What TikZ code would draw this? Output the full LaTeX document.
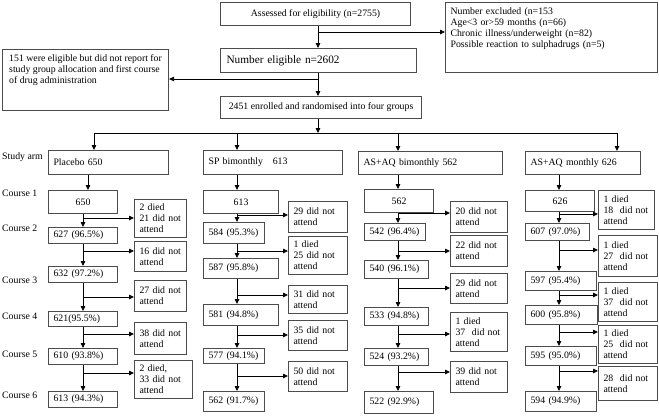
\documentclass[tikz,border=0pt]{standalone}
\usepackage{fontspec}
\setmainfont{Liberation Serif}
\usetikzlibrary{arrows.meta, positioning}

\begin{document}
\begin{tikzpicture}[x=1pt, y=-1pt,
    >={Triangle[length=5pt, width=4.5pt]},
    every node/.style={font=\fontsize{9.8}{11}\selectfont},
    box/.style={draw=black!70, line width=1.1pt, anchor=north west,
      inner xsep=5pt, inner ysep=2pt, align=left},
    mid/.style={box, align=center},
    link/.style={->, line width=0.8pt}]
          \useasboundingbox (0,0) rectangle (659,416);

          % Screening
          \node[mid, minimum width=190, minimum height=23] (assess) at (220,2) {Assessed for eligibility (n=2755)};
          \node[box, text width=202pt, text height=8pt, text depth=54pt, inner ysep=4pt] (excl) at (445,2)
            {Number excluded (n=153\\Age<3 or>59 months (n=66)\\Chronic illness/underweight (n=82)\\Possible reaction to sulphadrugs (n=5)};
          \node[box, text width=184pt, inner xsep=6pt, minimum height=24, font=\fontsize{11.3}{13}\selectfont] (numelig) at (220,48) {Number eligible n=2602};
          \node[box, minimum width=166, text height=30pt, text depth=23pt, inner ysep=4pt] (box151) at (2,49)
            {151 were eligible but did not report for\\study group allocation and first course\\of drug administration};
          \node[mid, minimum width=201, minimum height=22] (enrol) at (220,96) {2451 enrolled and randomised into four groups};

          % Study arms
          \node[box, text width=110pt, minimum height=24] (pl) at (48,150) {Placebo 650};
          \node[box, text width=129pt, minimum height=24] (sp) at (203,150) {SP bimonthly\ \ \ 613};
          \node[box, text width=134pt, minimum height=23] (bi) at (358,151) {AS+AQ bimonthly 562};
          \node[box, text width=105pt, minimum height=23] (mo) at (525,151) {AS+AQ monthly 626};

          % Row labels
          \node[anchor=west, inner sep=0pt] (lab0) at (2,157) {Study arm};
          \node[anchor=west, inner sep=0pt] (lab1) at (2,193) {Course 1};
          \node[anchor=west, inner sep=0pt] (lab2) at (2,228) {Course 2};
          \node[anchor=west, inner sep=0pt] (lab3) at (2,280) {Course 3};
          \node[anchor=west, inner sep=0pt] (lab4) at (2,316) {Course 4};
          \node[anchor=west, inner sep=0pt] (lab5) at (2,354) {Course 5};
          \node[anchor=west, inner sep=0pt] (lab6) at (2,395) {Course 6};

          % Placebo
          \node[mid, minimum width=69, minimum height=23] (p1) at (48,190) {650};
          \node[box, text width=59pt, minimum height=16] (p2) at (48,227) {627 (96.5\%)};
          \node[box, text width=59pt, minimum height=16] (p3) at (48,266) {632 (97.2\%)};
          \node[box, text width=59pt, minimum height=15] (p4) at (48,311) {621(95.5\%)};
          \node[box, text width=59pt, minimum height=16] (p5) at (48,348) {610 (93.8\%)};
          \node[box, text width=59pt, minimum height=16] (p6) at (48,391) {613 (94.3\%)};
          \node[box, text width=42pt, minimum height=38] (ps1) at (134,199) {2 died\\21 did not\\attend};
          \node[box, text width=42pt, minimum height=30] (ps2) at (134,241) {16 did not\\attend};
          \node[box, text width=42pt, minimum height=31] (ps3) at (134,280) {27 did not\\attend};
          \node[box, text width=42pt, minimum height=32] (ps4) at (134,322) {38 did not\\attend};
          \node[box, text width=48pt, minimum height=38] (ps5) at (134,360) {2 died,\\33 did not\\attend};

          % SP bimonthly
          \node[mid, minimum width=75, minimum height=23] (s1) at (203,190) {613};
          \node[box, text width=51pt, minimum height=21] (s2) at (203,222) {584 (95.3\%)};
          \node[box, text width=65pt, minimum height=20] (s3) at (203,258) {587 (95.8\%)};
          \node[box, text width=65pt, minimum height=21] (s4) at (203,304) {581 (94.8\%)};
          \node[box, text width=51pt, minimum height=15] (s5) at (203,348) {577 (94.1\%)};
          \node[box, text width=51pt, minimum height=20] (s6) at (203,391) {562 (91.7\%)};
          \node[box, text width=49pt, minimum height=31] (ss1) at (288,201) {29 did not\\attend};
          \node[box, text width=49pt, minimum height=38] (ss2) at (288,236) {1 died\\25 did not\\attend};
          \node[box, text width=49pt, minimum height=28] (ss3) at (288,285) {31 did not\\attend};
          \node[box, text width=49pt, minimum height=30] (ss4) at (288,320) {35 did not\\attend};
          \node[box, text width=49pt, minimum height=30] (ss5) at (288,361) {50 did not\\attend};

          % AS+AQ bimonthly
          \node[mid, minimum width=69, minimum height=23] (b1) at (364,189) {562};
          \node[box, text width=51pt, minimum height=17] (b2) at (364,223) {542 (96.4\%)};
          \node[box, text width=54pt, minimum height=18] (b3) at (364,260) {540 (96.1\%)};
          \node[box, text width=54pt, minimum height=18] (b4) at (364,307) {533 (94.8\%)};
          \node[box, text width=54pt, minimum height=17] (b5) at (364,348) {524 (93.2\%)};
          \node[box, text width=59pt, minimum height=22] (b6) at (364,391) {522 (92.9\%)};
          \node[box, text width=47pt, minimum height=31] (bs1) at (450,201) {20 did not\\attend};
          \node[box, text width=47pt, minimum height=31] (bs2) at (450,235) {22 did not\\attend};
          \node[box, text width=47pt, minimum height=30] (bs3) at (450,273) {29 did not\\attend};
          \node[box, text width=47pt, minimum height=39] (bs4) at (450,312) {1 died\\37\ \ did not\\attend};
          \node[box, text width=47pt, minimum height=31] (bs5) at (450,361) {39 did not\\attend};

          % AS+AQ monthly
          \node[mid, minimum width=69, minimum height=21] (m1) at (525,190) {626};
          \node[box, text width=54pt, minimum height=17] (m2) at (525,223) {607 (97.0\%)};
          \node[box, text width=61pt, minimum height=19] (m3) at (525,271) {597 (95.4\%)};
          \node[box, text width=62pt, minimum height=19] (m4) at (525,305) {600 (95.8\%)};
          \node[box, text width=61pt, minimum height=19] (m5) at (525,346) {595 (95.0\%)};
          \node[box, text width=61pt, minimum height=20] (m6) at (525,391) {594 (94.9\%)};
          \node[box, text width=46pt, minimum height=39] (ms1) at (598,190) {1 died\\18\ \ did not\\attend};
          \node[box, text width=49pt, minimum height=41] (ms2) at (598,235) {1 died\\27\ \ did not\\attend};
          \node[box, text width=49pt, minimum height=39] (ms3) at (598,282) {1 died\\37\ \ did not\\attend};
          \node[box, text width=49pt, minimum height=38] (ms4) at (598,325) {1 died\\25\ \ did not\\attend};
          \node[box, text width=49pt, minimum height=34] (ms5) at (598,366) {28\ \ did not\\attend};

          % Junctions
          \coordinate (tj1) at (318,32);
          \coordinate (tj2) at (318,79);
          \coordinate (split) at (318,133);
          \coordinate (armP) at (94,133);
          \coordinate (armS) at (237,133);
          \coordinate (armB) at (398,133);
          \coordinate (armM) at (617,133);
          \coordinate (pa) at (88,180);
          \coordinate (pj1) at (83,218);
          \coordinate (pj2) at (83,251);
          \coordinate (pj3) at (83,297);
          \coordinate (pj4) at (83,334);
          \coordinate (pj5) at (83,373);
          \coordinate (sj1) at (237,215);
          \coordinate (sj2) at (237,251);
          \coordinate (sj3) at (237,295);
          \coordinate (sj4) at (237,335);
          \coordinate (sj5) at (237,376);
          \coordinate (bj1) at (398,213);
          \coordinate (bj2) at (398,251);
          \coordinate (bj3) at (398,288);
          \coordinate (bj4) at (398,334);
          \coordinate (bj5) at (398,372);
          \coordinate (mj1) at (559,214);
          \coordinate (mj2) at (559,250);
          \coordinate (mj3) at (559,295);
          \coordinate (mj4) at (559,332);
          \coordinate (mj5) at (559,371);

          % Edges
          \draw[link] (assess.south -| tj1) -- (numelig.north -| tj1);
          \draw[link] (tj1) -- (tj1 -| excl.west);
          \draw[link] (numelig.south -| tj2) -- (enrol.north -| tj2);
          \draw[link] (tj2) -- (tj2 -| box151.east);
          \draw[link] (enrol.south -| split) -- (split);
          \draw[line width=0.8pt] (armP) -- (armM);
          \draw[link] (armP) -- (armP |- pl.north);
          \draw[link] (armS) -- (armS |- sp.north);
          \draw[link] (armB) -- (armB |- bi.north);
          \draw[link] (armM) -- (armM |- mo.north);

          \draw[link] (pa |- pl.south) -- (pa |- p1.north);
          \draw[link] (p1.south -| pj1) -- (p2.north -| pj1);
          \draw[link] (p2.south -| pj2) -- (p3.north -| pj2);
          \draw[link] (p3.south -| pj3) -- (p4.north -| pj3);
          \draw[link] (p4.south -| pj4) -- (p5.north -| pj4);
          \draw[link] (p5.south -| pj5) -- (p6.north -| pj5);
          \draw[link] (pj1) -- (pj1 -| ps1.west);
          \draw[link] (pj2) -- (pj2 -| ps2.west);
          \draw[link] (pj3) -- (pj3 -| ps3.west);
          \draw[link] (pj4) -- (pj4 -| ps4.west);
          \draw[link] (pj5) -- (pj5 -| ps5.west);

          \draw[link] (sp.south -| sj1) -- (s1.north -| sj1);
          \draw[link] (s1.south -| sj1) -- (s2.north -| sj1);
          \draw[link] (s2.south -| sj2) -- (s3.north -| sj2);
          \draw[link] (s3.south -| sj3) -- (s4.north -| sj3);
          \draw[link] (s4.south -| sj4) -- (s5.north -| sj4);
          \draw[link] (s5.south -| sj5) -- (s6.north -| sj5);
          \draw[link] (sj1) -- (sj1 -| ss1.west);
          \draw[link] (sj2) -- (sj2 -| ss2.west);
          \draw[link] (sj3) -- (sj3 -| ss3.west);
          \draw[link] (sj4) -- (sj4 -| ss4.west);
          \draw[link] (sj5) -- (sj5 -| ss5.west);

          \draw[link] (bi.south -| bj1) -- (b1.north -| bj1);
          \draw[link] (b1.south -| bj1) -- (b2.north -| bj1);
          \draw[link] (b2.south -| bj2) -- (b3.north -| bj2);
          \draw[link] (b3.south -| bj3) -- (b4.north -| bj3);
          \draw[link] (b4.south -| bj4) -- (b5.north -| bj4);
          \draw[link] (b5.south -| bj5) -- (b6.north -| bj5);
          \draw[link] (bj1) -- (bj1 -| bs1.west);
          \draw[link] (bj2) -- (bj2 -| bs2.west);
          \draw[link] (bj3) -- (bj3 -| bs3.west);
          \draw[link] (bj4) -- (bj4 -| bs4.west);
          \draw[link] (bj5) -- (bj5 -| bs5.west);

          \draw[link] (mo.south -| mj1) -- (m1.north -| mj1);
          \draw[link] (m1.south -| mj1) -- (m2.north -| mj1);
          \draw[link] (m2.south -| mj2) -- (m3.north -| mj2);
          \draw[link] (m3.south -| mj3) -- (m4.north -| mj3);
          \draw[link] (m4.south -| mj4) -- (m5.north -| mj4);
          \draw[link] (m5.south -| mj5) -- (m6.north -| mj5);
          \draw[link] (mj1) -- (mj1 -| ms1.west);
          \draw[link] (mj2) -- (mj2 -| ms2.west);
          \draw[link] (mj3) -- (mj3 -| ms3.west);
          \draw[link] (mj4) -- (mj4 -| ms4.west);
          \draw[link] (mj5) -- (mj5 -| ms5.west);
    \end{tikzpicture}
\end{document}
